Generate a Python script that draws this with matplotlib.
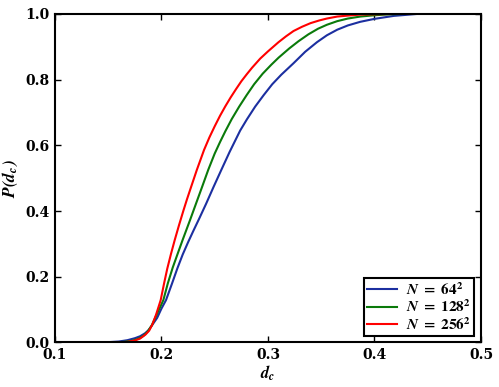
import matplotlib
matplotlib.use("Agg")
import matplotlib.pyplot as plt
from matplotlib.font_manager import FontProperties

# cumulative probability curves
d_64 = [0.100, 0.140, 0.150, 0.160, 0.168, 0.175, 0.180, 0.1846, 0.1880, 0.1909, 0.1960,
        0.2000, 0.2043, 0.2100, 0.2150, 0.2200, 0.2250, 0.2300, 0.2353, 0.2419, 0.2490,
        0.2566, 0.2640, 0.2739, 0.2802, 0.2880, 0.2960, 0.3040, 0.3125, 0.3240, 0.3350,
        0.3460, 0.3553, 0.3650, 0.3750, 0.3866, 0.4000, 0.4180, 0.4400, 0.5000]
p_64 = [0.000, 0.000, 0.001, 0.003, 0.007, 0.013, 0.019, 0.028, 0.038, 0.051, 0.075,
        0.103, 0.129, 0.180, 0.226, 0.268, 0.305, 0.340, 0.376, 0.422, 0.474,
        0.528, 0.580, 0.645, 0.679, 0.718, 0.753, 0.786, 0.815, 0.850, 0.885,
        0.914, 0.935, 0.952, 0.965, 0.976, 0.985, 0.994, 1.000, 1.000]

d_128 = [0.100, 0.155, 0.165, 0.172, 0.178, 0.183, 0.187, 0.1909, 0.1960, 0.2018, 0.2060,
         0.2106, 0.2150, 0.2200, 0.2269, 0.2316, 0.2380, 0.2440, 0.2500, 0.2550, 0.2600,
         0.2660, 0.2730, 0.2800, 0.2870, 0.2950, 0.3030, 0.3100, 0.3200, 0.3287, 0.3380,
         0.3470, 0.3553, 0.3650, 0.3750, 0.3866, 0.4000, 0.4150, 0.4300, 0.5000]
p_128 = [0.000, 0.000, 0.002, 0.005, 0.011, 0.020, 0.033, 0.052, 0.088, 0.129, 0.180,
         0.228, 0.268, 0.313, 0.373, 0.415, 0.472, 0.526, 0.575, 0.610, 0.643,
         0.680, 0.718, 0.753, 0.786, 0.818, 0.845, 0.867, 0.895, 0.917, 0.938,
         0.955, 0.967, 0.978, 0.986, 0.992, 0.996, 0.999, 1.000, 1.000]

d_256 = [0.100, 0.160, 0.168, 0.175, 0.180, 0.185, 0.1885, 0.1915, 0.1950, 0.1993, 0.2025,
         0.2055, 0.2090, 0.2125, 0.2165, 0.2205, 0.2240, 0.2275, 0.2332, 0.2400, 0.2450,
         0.2500, 0.2550, 0.2600, 0.2650, 0.2700, 0.2750, 0.2800, 0.2850, 0.2927, 0.3000,
         0.3099, 0.3170, 0.3240, 0.3320, 0.3400, 0.3480, 0.3553, 0.3650, 0.3750, 0.3866,
         0.4000, 0.4200, 0.5000]
p_256 = [0.000, 0.000, 0.002, 0.006, 0.012, 0.024, 0.036, 0.055, 0.085, 0.129, 0.180,
         0.225, 0.270, 0.312, 0.357, 0.400, 0.436, 0.470, 0.525, 0.586, 0.624,
         0.658, 0.690, 0.719, 0.746, 0.771, 0.795, 0.816, 0.836, 0.864, 0.886,
         0.914, 0.932, 0.948, 0.961, 0.972, 0.980, 0.986, 0.992, 0.995, 0.998,
         0.999, 1.000, 1.000]

labels = [r'$\mathbfit{N}\mathbf{\ =\ 64^{2}}$',
          r'$\mathbfit{N}\mathbf{\ =\ 128^{2}}$',
          r'$\mathbfit{N}\mathbf{\ =\ 256^{2}}$']
colors = ['#1c2fa0', '#0a7a0a', '#ff0000']
xticks = [0.1, 0.2, 0.3, 0.4, 0.5]
yticks = [0.0, 0.2, 0.4, 0.6, 0.8, 1.0]

plt.rcParams['xtick.direction'] = 'in'
plt.rcParams['ytick.direction'] = 'in'

fig = plt.figure(figsize=(4.99, 3.87), dpi=100)
ax = fig.add_axes([0.110, 0.115, 0.854, 0.849])

for d, p, lab, c in zip([d_64, d_128, d_256], [p_64, p_128, p_256], labels, colors):
    ax.plot(d, p, color=c, lw=1.5, label=lab)

ax.set_xlim(0.1, 0.5)
ax.set_ylim(0.0, 1.0)
tick_font = dict(family='DejaVu Serif', weight='bold', size=10)
ax.set_xticks(xticks)
ax.set_xticklabels(['%.1f' % v for v in xticks], fontdict=tick_font)
ax.set_yticks(yticks)
ax.set_yticklabels(['%.1f' % v for v in yticks], fontdict=tick_font)
ax.tick_params(axis='both', which='major', length=4, width=1,
               top=True, right=True, pad=4)
for s in ax.spines.values():
    s.set_linewidth(1.5)

ax.set_xlabel(r'$\mathbfit{d_c}$', fontsize=12, math_fontfamily='stix', labelpad=1)
ax.set_ylabel(r'$\mathbfit{P(d_c)}$', fontsize=12.5, math_fontfamily='stix', labelpad=4)

leg = ax.legend(loc='lower right', prop=FontProperties(size=11, math_fontfamily='stix'),
                fancybox=False, framealpha=1, borderpad=0.2, labelspacing=0.05,
                handlelength=2.0, handletextpad=0.6, borderaxespad=0.45)
leg.get_frame().set_edgecolor('black')
leg.get_frame().set_linewidth(1.5)

fig.savefig('out.png', dpi=100)
